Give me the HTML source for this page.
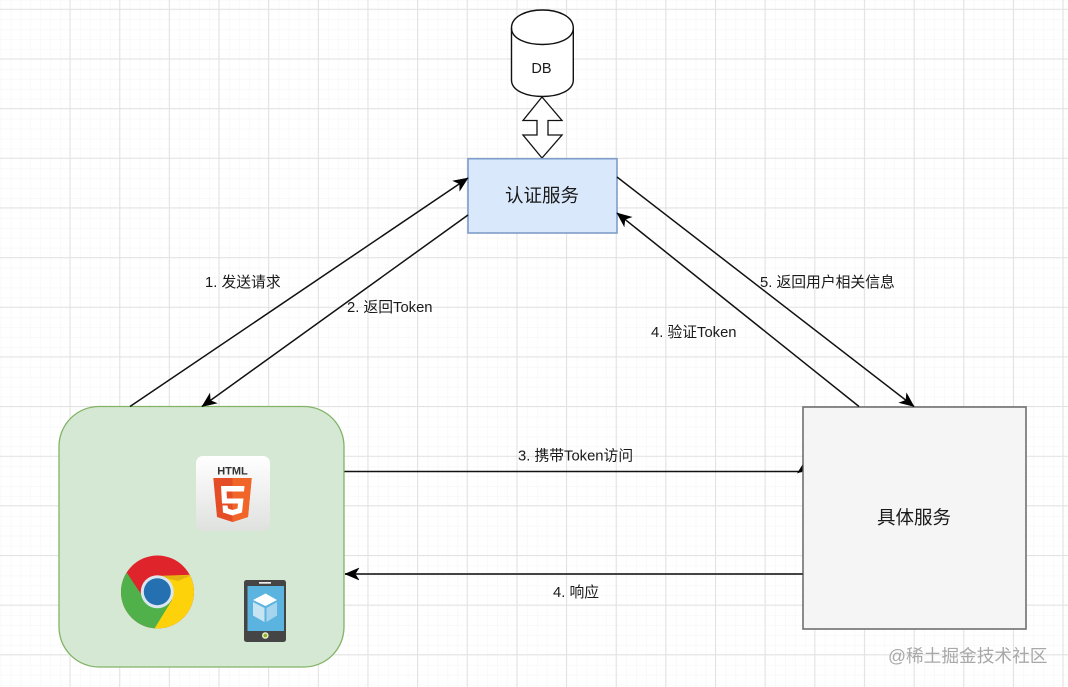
<!DOCTYPE html>
<html lang="zh"><head><meta charset="utf-8"><title>Token 认证流程</title>
<style>
html,body{margin:0;padding:0;background:#fff}
svg{display:block}
text{font-family:"Liberation Sans","Noto Sans CJK SC",sans-serif;fill:#1a1a1a}
</style></head><body>
<svg width="1068" height="687" viewBox="0 0 1068 687" xmlns="http://www.w3.org/2000/svg">
<defs>
<pattern id="minor" x="0.5" y="-0.6" width="9.93" height="9.93" patternUnits="userSpaceOnUse">
<path d="M0.5 0V9.93M0 0.5H9.93" stroke="#f9f9f9" stroke-width="1" fill="none"/>
</pattern>
<marker id="a" markerUnits="userSpaceOnUse" markerWidth="18" markerHeight="16" refX="15" refY="8" orient="auto">
<path d="M15 8L1 2L4.800 8L1 14Z" fill="#000" stroke="#000" stroke-width=".5"/>
</marker>
<linearGradient id="h5" x1="0" y1="0" x2="0" y2="1"><stop offset="0" stop-color="#fff"/><stop offset="1" stop-color="#dfe1df"/></linearGradient>
<clipPath id="cc"><circle cx="157.5" cy="592" r="36.5"/></clipPath>
</defs>

<rect width="1068" height="687" fill="#fff"/>
<rect width="1068" height="687" fill="url(#minor)"/>
<path fill="none" stroke="#e2e2e2" stroke-width="1" d="M70 0V687M119.7 0V687M169.3 0V687M219 0V687M268.6 0V687M318.3 0V687M367.9 0V687M417.6 0V687M467.2 0V687M516.9 0V687M566.5 0V687M616.2 0V687M665.8 0V687M715.5 0V687M765.1 0V687M814.8 0V687M864.4 0V687M914.1 0V687M963.7 0V687M1013.4 0V687M1063 0V687
M0 9.3H1068M0 59H1068M0 108.6H1068M0 158.3H1068M0 207.9H1068M0 257.6H1068M0 307.2H1068M0 356.9H1068M0 406.5H1068M0 456.2H1068M0 505.8H1068M0 555.5H1068M0 605.1H1068M0 654.8H1068"/>

<!-- DB -->
<path d="M511.5 28C511.5 4 573.3 4 573.3 28V80C573.3 102 511.5 102 511.5 80Z" fill="#fff" stroke="#111" stroke-width="1.4"/>
<path d="M511.5 28C511.5 50 573.3 50 573.3 28" fill="none" stroke="#111" stroke-width="1.4"/>
<text x="541.5" y="73" text-anchor="middle" font-size="14.500">DB</text>

<!-- double arrow -->
<path d="M542 97L562 120.500H548V135H562L542 158L523 135H537V120.500H523Z" fill="#fff" stroke="#111" stroke-width="1.3"/>

<!-- boxes -->
<rect x="468" y="158.700" width="149" height="74.300" fill="#dae8fc" stroke="#7f9dc9" stroke-width="1.600"/>
<text x="542" y="202" text-anchor="middle" font-size="18.500">认证服务</text>
<rect x="59" y="406.500" width="285" height="260.500" rx="40" fill="#d5e8d4" stroke="#82b366" stroke-width="1.300"/>
<rect x="803" y="407" width="223" height="222" fill="#f5f5f5" stroke="#707070" stroke-width="1.600"/>
<text x="914" y="524" text-anchor="middle" font-size="18.500">具体服务</text>

<!-- connectors -->
<g fill="none" stroke="#111" stroke-width="1.500">
<path d="M130 406.500L468 178" marker-end="url(#a)"/>
<path d="M468 215L202 406.500" marker-end="url(#a)"/>
<path d="M617 177L914 406.500" marker-end="url(#a)"/>
<path d="M859 406.500L617 213" marker-end="url(#a)"/>
<path d="M344.500 471.500H802"/>
<path d="M803 574H345" stroke="#444" stroke-width="1.900" marker-end="url(#a)"/>
</g>
<path d="M802.500 464.500L797 473.500L802.500 471.500Z" fill="#000"/>

<!-- labels -->
<g font-size="14.800">
<text x="205" y="287">1. 发送请求</text>
<text x="347" y="312">2. 返回Token</text>
<text x="760" y="287">5. 返回用户相关信息</text>
<text x="651" y="337">4. 验证Token</text>
<text x="518" y="460.500">3. 携带Token访问</text>
<text x="553" y="597">4. 响应</text>
</g>

<!-- HTML5 icon -->
<rect x="196" y="456" width="74" height="75" rx="7" fill="url(#h5)"/>
<text x="232.500" y="474.500" text-anchor="middle" font-size="11" font-weight="700" style="fill:#333">HTML</text>
<path d="M213.300 478H251.700L248 517L232.500 522L217 517Z" fill="#e44d26"/>
<path d="M232.500 478H251.700L248 517L232.500 522Z" fill="#f16529"/>
<path d="M221 486H244.500L244 491.500H226.500L227 498.500H243.500L242 512.500L232.500 515.500L223 512.500L222.500 505.500H227.500L228 508.500L232.500 510L237.500 508.500L238 503.500H222Z" fill="#fff"/>

<!-- Chrome icon -->
<g clip-path="url(#cc)">
<rect x="120" y="555" width="76" height="74" fill="#e0242b"/>
<path d="M157.500 576L196 574.500V630H153L172 600Z" fill="#fdd20a"/>
<path d="M127 573L143 597L156 600L172 600L153 631H118V573Z" fill="#50b14a"/>
<path d="M157.500 576L192 575L178 581Z" fill="#d7a513" opacity=".7"/>
</g>
<circle cx="157.300" cy="591.700" r="16.500" fill="#dbe7ee"/>
<circle cx="157.300" cy="591.700" r="13.500" fill="#2470b0"/>

<!-- Phone icon -->
<rect x="244" y="580" width="42" height="62" rx="2.500" fill="#454545"/>
<rect x="247.500" y="586" width="36.500" height="45" fill="#5ab4df"/>
<rect x="259" y="582" width="12" height="1.700" fill="#eee"/>
<path d="M265.500 593.500L277 600L265.500 606L253 600Z" fill="#fff"/>
<path d="M253 602L264.500 608V622L253 615.500Z" fill="#c7e4f3"/>
<path d="M266.500 608L277 602V615.500L266.500 622Z" fill="#a5d5ee"/>
<circle cx="265.300" cy="635.500" r="3.300" fill="#e8efc8"/>
<circle cx="265.300" cy="635.500" r="1.800" fill="#8ab42c"/>

<!-- watermark -->
<text x="888" y="662" font-size="17.700" style="fill:#a8a8a8">@稀土掘金技术社区</text>
</svg>
</body></html>
